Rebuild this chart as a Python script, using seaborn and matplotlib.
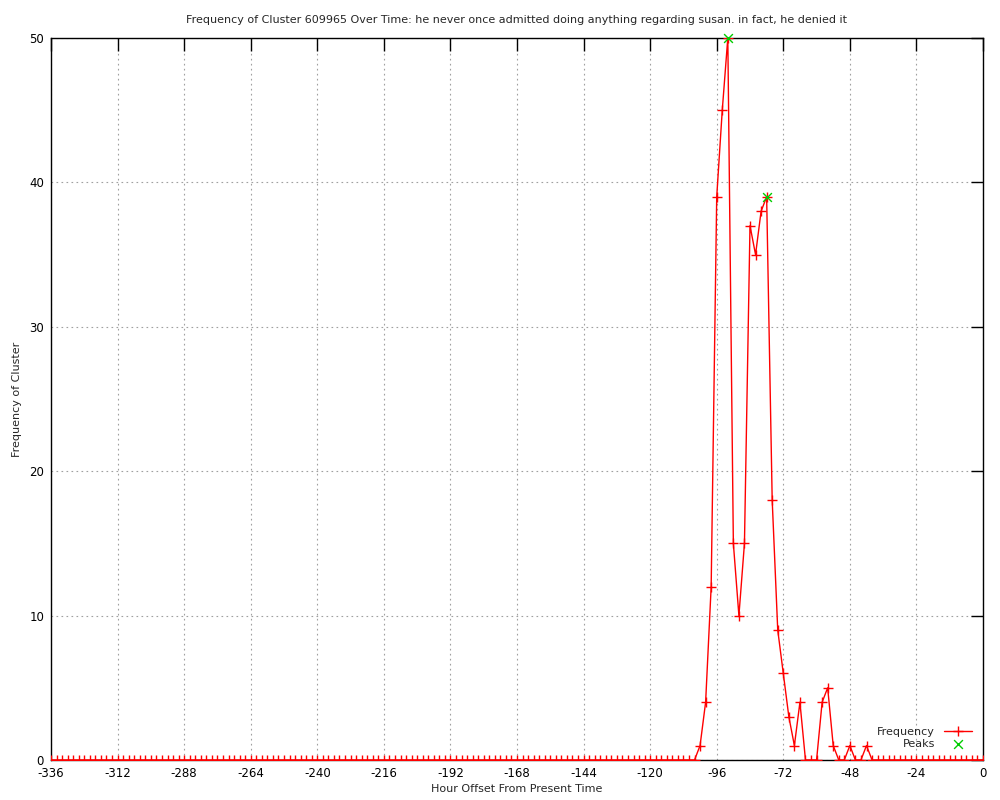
import numpy as np
import pandas as pd
import matplotlib
matplotlib.use("Agg")
import matplotlib.pyplot as plt
import seaborn as sns

# hours before present, one reading every 2 hours
hours = list(range(-336, 1, 2))
freq = [0] * 117 + [1, 4, 12, 39, 45, 50, 15, 10, 15, 37, 35, 38, 39, 18, 9, 6,
                    3, 1, 4, 0, 0, 0, 4, 5, 1, 0, 0, 1, 0, 0, 1] + [0] * 21
peak_hours = [-92, -78]
peak_vals = [50, 39]

df = pd.DataFrame({"hour": hours, "freq": freq})
peaks = pd.DataFrame({"hour": peak_hours, "freq": peak_vals})

sns.set_style("white")
plt.rcParams["font.family"] = ["DejaVu Sans"]
plt.rcParams["axes.unicode_minus"] = False

fig = plt.figure(figsize=(10, 8), dpi=100)
ax = fig.add_axes([0.051, 0.05, 0.932, 0.9025])

# red line is clipped to the axes (as gnuplot does), peak marks are not
sns.lineplot(data=df, x="hour", y="freq", ax=ax, color="red", lw=1,
             marker="+", markersize=7, markeredgewidth=1, markeredgecolor="red",
             label="Frequency", zorder=4)
sns.scatterplot(data=peaks, x="hour", y="freq", ax=ax, color="#00cc00",
                marker="x", s=40, linewidth=1, label="Peaks", zorder=5,
                clip_on=False)

ax.set_xlim(-336, 0)
ax.set_ylim(0, 50)
ax.set_xticks(range(-336, 1, 24))
ax.set_yticks(range(0, 51, 10))
ax.grid(True, color="#a0a0a0", linestyle=(0, (1.5, 3)), lw=0.8)
ax.tick_params(direction="in", length=9, width=1, top=True, right=True,
               labelsize=8.5, colors="black", pad=5)
for s in ax.spines.values():
    s.set_color("black")
    s.set_linewidth(1)

ax.set_xlabel("Hour Offset From Present Time", fontsize=8, labelpad=3)
ax.set_ylabel("Frequency of Cluster", fontsize=8, labelpad=5)
ax.set_title("Frequency of Cluster 609965 Over Time: he never once admitted doing "
             "anything regarding susan. in fact, he denied it", fontsize=8, pad=11)

ax.legend(loc="lower right", frameon=False, markerfirst=False, fontsize=8,
          handlelength=2.5, borderaxespad=0.6, labelspacing=0.2)

fig.savefig("out.png", dpi=100)
